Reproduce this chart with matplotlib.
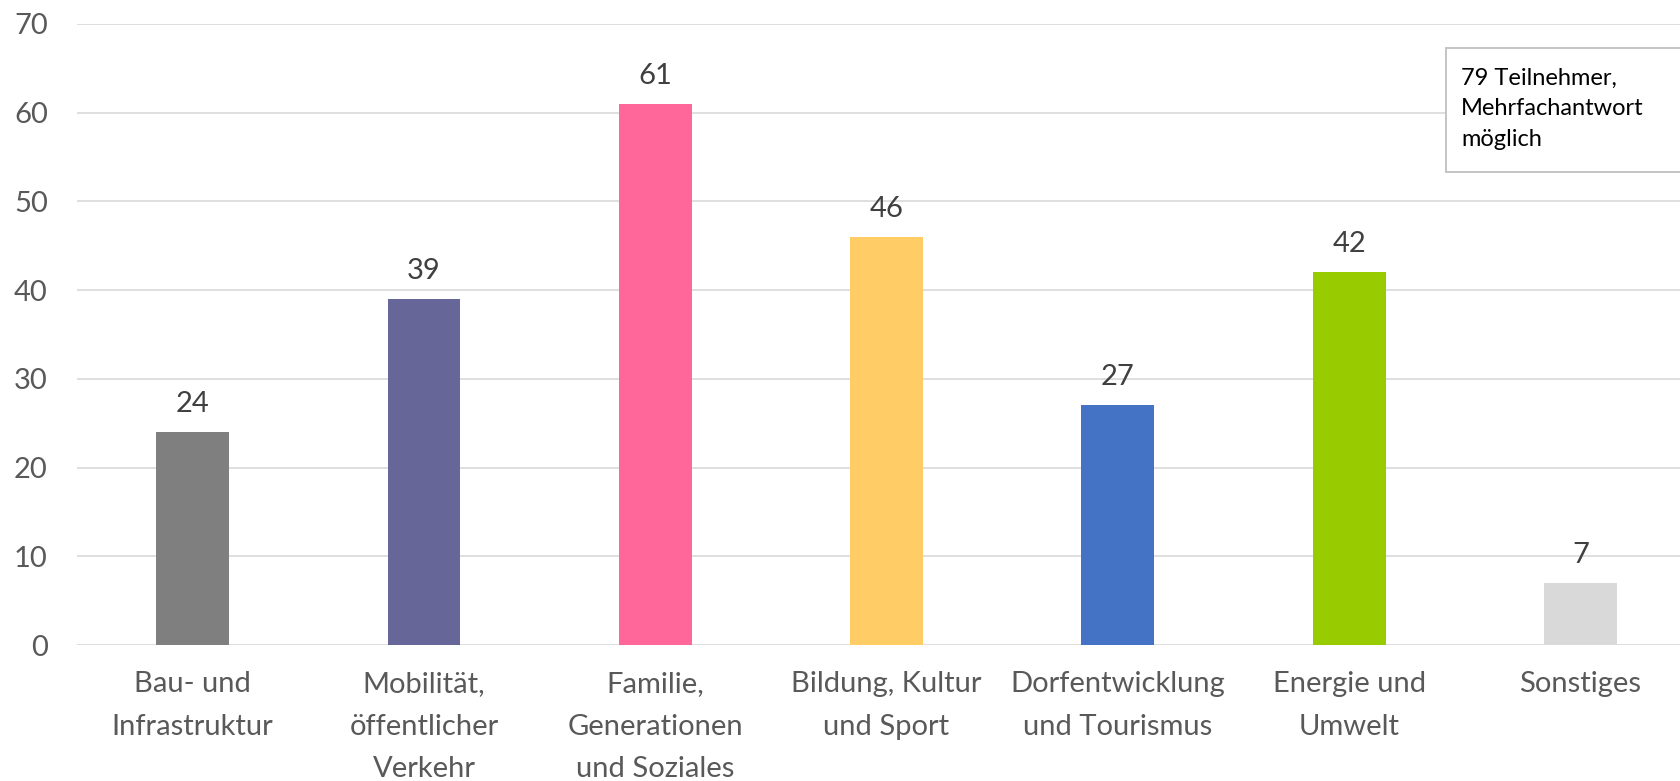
import matplotlib.pyplot as plt
import matplotlib.patches as patches
import numpy as np

# Daten
kategorien = [
    "Bau- und\nInfrastruktur",
    "Mobilität,\nöffentlicher\nVerkehr",
    "Familie,\nGenerationen\nund Soziales",
    "Bildung, Kultur\nund Sport",
    "Dorfentwicklung\nund Tourismus",
    "Energie und\nUmwelt",
    "Sonstiges",
]
werte = [24, 39, 61, 46, 27, 42, 7]
farben = ["#7F7F7F", "#666699", "#FF6699", "#FFCC66", "#4472C4", "#99CC00", "#D9D9D9"]
y_ticks = [0, 10, 20, 30, 40, 50, 60, 70]
hinweis = "79 Teilnehmer,\nMehrfachantwort\nmöglich"

plt.rcParams['font.family'] = ['Lato', 'DejaVu Sans']

fig = plt.figure(figsize=(16.81, 7.81), dpi=100)
ax = fig.add_axes([77 / 1681, 1 - 645 / 781, 1 - 77 / 1681, (645 - 24) / 781])

x = np.arange(len(werte))
ax.bar(x, werte, width=0.315, color=farben, zorder=3)

# Werte über den Balken
for xi, w in zip(x, werte):
    ax.annotate(str(w), (xi, w), xytext=(0, 11), textcoords="offset points",
                ha="center", va="bottom", fontsize=21, color="#404040")

ax.set_xlim(-0.5, 6.435)
ax.set_ylim(0, 70)
ax.set_yticks(y_ticks)
ax.set_xticks(x)
ax.set_xticklabels(kategorien, fontsize=21, color="#595959", linespacing=1.78)
ax.tick_params(axis="y", labelsize=21, labelcolor="#595959", length=0, pad=21)
ax.tick_params(axis="x", length=0, pad=19)
ax.grid(axis="y", color="#D9D9D9", linewidth=1.2, zorder=0)
for s in ax.spines.values():
    s.set_visible(False)

# Hinweisbox (rechts angeschnitten)
fig.patches.append(patches.Rectangle((1446 / 1681, 1 - 172 / 781), 260 / 1681, 124 / 781,
                                     transform=fig.transFigure, facecolor="white",
                                     edgecolor="#BFBFBF", linewidth=1.3, zorder=5))
fig.text(1461 / 1681, 1 - 68 / 781, hinweis, fontsize=17, color="black",
         ha="left", va="top", linespacing=1.55, zorder=6)

fig.savefig("out.png", dpi=100)
